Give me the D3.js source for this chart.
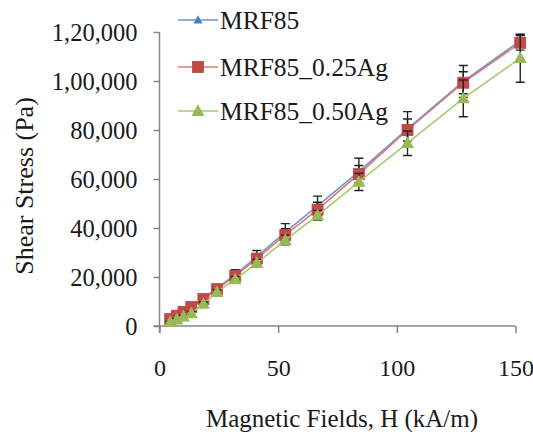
<!DOCTYPE html>
<html><head><meta charset="utf-8">
<script src="https://cdn.jsdelivr.net/npm/d3@7"></script>
<style>body{margin:0;background:#fff}svg{display:block}text{font-family:"Liberation Serif","Times New Roman",serif;fill:#1a1a1a}</style>
</head><body>
<script>
const fieldH = [4.5, 7.3, 10.1, 13.4, 18.5, 24.2, 31.9, 41, 53, 66.6, 84, 104.5, 128, 152];
const mrf85 = [3000, 4400, 6000, 8000, 11300, 15500, 21000, 28300, 38300, 49000, 63000, 80500, 99800, 116500];
const mrf85Err = [500, 600, 700, 800, 1000, 1500, 2000, 2500, 3500, 4000, 5500, 7000, 6500, 2500];
const mrf85_025 = [2800, 4200, 5800, 7800, 11000, 15000, 20500, 27500, 37200, 47500, 62000, 80000, 99300, 115600];
const mrf85_025Err = [400, 500, 600, 700, 900, 1200, 1600, 2000, 2500, 3000, 3500, 4500, 4500, 3000];
const mrf85_050 = [1600, 2600, 3800, 5200, 9000, 13800, 19000, 25700, 35100, 45200, 58800, 74600, 92900, 109300];
const mrf85_050Err = [400, 500, 600, 700, 800, 1000, 1200, 1500, 2000, 2000, 3500, 5000, 7500, 9800];
const seriesNames = ["MRF85", "MRF85_0.25Ag", "MRF85_0.50Ag"];
const xTicks = [0, 50, 100, 150];
const yTicks = [0, 20000, 40000, 60000, 80000, 100000, 120000];
const yTickLabels = ["0", "20,000", "40,000", "60,000", "80,000", "1,00,000", "1,20,000"];
const xTitle = "Magnetic Fields, H (kA/m)";
const yTitle = "Shear Stress (Pa)";

const W = 533, H = 432;
const svg = d3.select("body").append("svg").attr("width", W).attr("height", H);
const x = d3.scaleLinear().domain([0, 150]).range([159.5, 515.5]);
const y = d3.scaleLinear().domain([0, 120000]).range([326, 32]);

const axisColor = "#868686";
const gx = svg.append("g").attr("transform", `translate(0,${y(0)})`)
  .call(d3.axisBottom(x).tickValues(xTicks).tickSize(7).tickSizeOuter(0).tickFormat(d3.format("d")));
gx.select(".domain").attr("stroke", axisColor).attr("stroke-width", 1.5).attr("d", `M${x(0)-6},0H${x(150)}`);
gx.selectAll(".tick line").attr("stroke", axisColor).attr("stroke-width", 1.5);
gx.selectAll(".tick text").attr("font-size", 24).attr("dy", 0).attr("y", 50).attr("fill", "#1a1a1a")
  .style("font-family", '"Liberation Serif",serif');

const gy = svg.append("g").attr("transform", `translate(${x(0)},0)`)
  .call(d3.axisLeft(y).tickValues(yTicks).tickSize(6).tickSizeOuter(0).tickFormat((d, i) => yTickLabels[i]));
gy.select(".domain").attr("stroke", axisColor).attr("stroke-width", 1.5).attr("d", `M0,${y(0)+7}V${y(120000)}`);
gy.selectAll(".tick line").attr("stroke", axisColor).attr("stroke-width", 1.5);
gy.selectAll(".tick text").attr("font-size", 24.5).attr("x", -22).attr("dy", "0.34em").attr("fill", "#1a1a1a")
  .style("font-family", '"Liberation Serif",serif');

svg.append("text").attr("x", 342).attr("y", 427).attr("text-anchor", "middle").attr("font-size", 25).text(xTitle);
svg.append("text").attr("transform", "translate(33,186) rotate(-90)").attr("text-anchor", "middle").attr("font-size", 26).text(yTitle);

const series = [
  {name: seriesNames[0], vals: mrf85, err: mrf85Err, line: "#6f96d0", fill: "#4a7ebb", shape: "tri", size: 9},
  {name: seriesNames[1], vals: mrf85_025, err: mrf85_025Err, line: "#d9797a", fill: "#be4b48", shape: "sq", size: 11},
  {name: seriesNames[2], vals: mrf85_050, err: mrf85_050Err, line: "#a9c96d", fill: "#98b954", shape: "tri", size: 13}
];

function marker(g, s, cx, cy) {
  const r = s.size / 2;
  if (s.shape === "sq") {
    g.append("rect").attr("x", cx - r).attr("y", cy - r).attr("width", s.size).attr("height", s.size)
      .attr("fill", s.fill).attr("stroke", "#b94441").attr("stroke-width", 0.8);
  } else {
    g.append("path").attr("d", `M${cx},${cy - r * 1.05}L${cx + r},${cy + r * 0.75}L${cx - r},${cy + r * 0.75}Z`)
      .attr("fill", s.fill);
  }
}

const line = d3.line().x(d => x(d[0])).y(d => y(d[1]));
series.forEach(s => {
  const g = svg.append("g");
  const pts = fieldH.map((h, i) => [h, s.vals[i], s.err[i]]);
  g.append("path").attr("d", line(pts)).attr("fill", "none").attr("stroke", s.line).attr("stroke-width", 1.6);
  pts.forEach(p => {
    const cx = x(p[0]), y1 = y(p[1] + p[2]), y2 = y(p[1] - p[2]);
    g.append("path").attr("d", `M${cx},${y1}V${y2}M${cx-4.5},${y1}H${cx+4.5}M${cx-4.5},${y2}H${cx+4.5}`)
      .attr("stroke", "#222").attr("stroke-width", 1.4).attr("fill", "none");
  });
  pts.forEach(p => marker(g, s, x(p[0]), y(p[1])));
});

const legY = [20, 67, 111];
series.forEach((s, i) => {
  const g = svg.append("g");
  g.append("line").attr("x1", 178).attr("x2", 218).attr("y1", legY[i]).attr("y2", legY[i])
    .attr("stroke", s.line).attr("stroke-width", 1.6);
  marker(g, s, 198, legY[i]);
  g.append("text").attr("x", 220).attr("y", legY[i]).attr("dy", "0.34em").attr("font-size", 25.5).text(s.name);
});
</script>
</body></html>
